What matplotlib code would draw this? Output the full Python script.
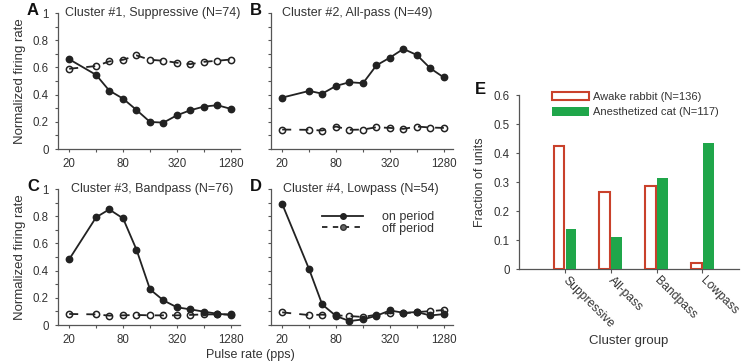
import numpy as np
import matplotlib
matplotlib.use("Agg")
import matplotlib.pyplot as plt
from matplotlib.lines import Line2D
from matplotlib.ticker import FuncFormatter

plt.rcParams['font.family'] = ['Liberation Sans', 'DejaVu Sans']

# pulse rates (pps)
rates = [20, 40, 56, 80, 113, 160, 226, 320, 452, 640, 905, 1280]
rate_ticks = [20, 40, 80, 160, 320, 640, 1280]
rate_labels = ['20', '', '80', '', '320', '', '1280']

titles = ["Cluster #1, Suppressive (N=74)", "Cluster #2, All-pass (N=49)",
          "Cluster #3, Bandpass (N=76)", "Cluster #4, Lowpass (N=54)"]
letters = ["A", "B", "C", "D"]

on_A = [0.66, 0.545, 0.43, 0.37, 0.287, 0.199, 0.194, 0.248, 0.285, 0.312, 0.322, 0.295]
off_A = [0.59, 0.61, 0.644, 0.656, 0.688, 0.656, 0.649, 0.634, 0.624, 0.641, 0.649, 0.658]
on_B = [0.378, 0.427, 0.407, 0.464, 0.491, 0.484, 0.615, 0.672, 0.736, 0.691, 0.593, 0.526]
off_B = [0.143, 0.141, 0.136, 0.165, 0.141, 0.143, 0.16, 0.155, 0.148, 0.165, 0.158, 0.155]
on_C = [0.483, 0.792, 0.85, 0.784, 0.554, 0.262, 0.181, 0.13, 0.115, 0.098, 0.083, 0.074]
off_C = [0.081, 0.078, 0.069, 0.071, 0.074, 0.071, 0.071, 0.071, 0.074, 0.078, 0.078, 0.078]
on_D = [0.89, 0.41, 0.151, 0.066, 0.029, 0.041, 0.068, 0.107, 0.09, 0.095, 0.07, 0.08]
off_D = [0.093, 0.073, 0.076, 0.071, 0.066, 0.059, 0.076, 0.088, 0.085, 0.095, 0.102, 0.11]

on_all = [on_A, on_B, on_C, on_D]
off_all = [off_A, off_B, off_C, off_D]

# panel E
groups = ["Suppressive", "All-pass", "Bandpass", "Lowpass"]
rabbit = [0.425, 0.265, 0.287, 0.021]
cat = [0.137, 0.110, 0.315, 0.435]

txt = '#333333'
axc = '#555555'
red = '#c9412b'
green = '#1fa64a'

fig = plt.figure(figsize=(7.51, 3.63), dpi=100)

W, H = 751.0, 363.0
def box(l, t, w, h):
    return [l / W, 1 - (t + h) / H, w / W, h / H]

pos = [box(58, 13, 182, 136), box(271, 13, 182, 136),
       box(58, 189, 182, 136), box(271, 189, 182, 136)]
title_x = [0.04, 0.06, 0.07, 0.066]

fmt = FuncFormatter(lambda v, p: '%g' % v)

for i in range(4):
    ax = fig.add_axes(pos[i])
    ax.set_xscale('log')
    ax.set_xlim(15, 1620)
    ax.set_ylim(0, 1)
    # off period: open markers under a dashed line
    ax.plot(rates, off_all[i], ls='none', marker='o', ms=4.5, mfc='white',
            mec='#222222', mew=1.1, zorder=3)
    ax.plot(rates, off_all[i], ls=(0, (5, 4.5)), color='#222222', lw=1.3, zorder=4)
    ax.plot(rates, on_all[i], '-o', color='#222222', lw=1.3, ms=4.6, zorder=5)

    for s in ['top', 'right']:
        ax.spines[s].set_visible(False)
    for s in ['left', 'bottom']:
        ax.spines[s].set_color(axc)
        ax.spines[s].set_linewidth(0.9)
    ax.set_xticks(rate_ticks)
    ax.set_xticklabels(rate_labels)
    ax.xaxis.set_minor_locator(plt.NullLocator())
    ax.set_yticks(np.arange(0, 1.01, 0.2))
    ax.set_yticks(np.arange(0.1, 1.0, 0.2), minor=True)
    ax.yaxis.set_major_formatter(fmt)
    ax.tick_params(which='both', colors=axc, labelcolor=txt, labelsize=8.3,
                   length=2.5, width=0.8, pad=4)
    if i % 2 == 1:
        ax.set_yticklabels([])
    else:
        ax.set_ylabel("Normalized firing rate", fontsize=9.5, color=txt, labelpad=5)
    ax.text(title_x[i], 1.0, titles[i], transform=ax.transAxes, ha='left',
            va='center', fontsize=9, color=txt)
    ax.text(-0.17 if i % 2 == 0 else -0.115, 1.02, letters[i], transform=ax.transAxes,
            ha='left', va='center', fontsize=12, fontweight='bold', color='#111111')
    if i == 3:
        h_on = Line2D([], [], color='#222222', lw=1.3, marker='o', ms=4)
        h_off = Line2D([], [], color='#222222', lw=1.3, ls=(0, (3, 3)), marker='o',
                       ms=4, mfc='#666666', mec='#333333')
        ax.legend([h_on, h_off], ['on period', 'off period'], loc='center left',
                  bbox_to_anchor=(0.28, 0.75), frameon=False, fontsize=9,
                  handlelength=3.3, handletextpad=1.5, labelspacing=-0.05,
                  borderpad=0, borderaxespad=0, labelcolor=txt)

fig.text(0.333, 0.005, "Pulse rate (pps)", ha='center', va='bottom', fontsize=9, color=txt)

# panel E
axE = fig.add_axes(box(519, 95, 220, 174))
x = np.arange(len(groups))
axE.bar(x - 0.13, rabbit, width=0.23, facecolor='white', edgecolor=red, lw=1.5,
        label='Awake rabbit (N=136)', zorder=3)
axE.bar(x + 0.13, cat, width=0.23, color=green, label='Anesthetized cat (N=117)', zorder=3)
axE.set_xlim(-1, 3.8)
axE.set_ylim(0, 0.6)
axE.set_yticks(np.arange(0, 0.61, 0.1))
axE.yaxis.set_major_formatter(fmt)
axE.set_xticks(x)
axE.set_xticklabels(groups)
for lab in axE.get_xticklabels():
    lab.set_rotation(-45)
    lab.set_rotation_mode('anchor')
    lab.set_ha('left')
    lab.set_va('center')
for s in ['top', 'right']:
    axE.spines[s].set_visible(False)
for s in ['left', 'bottom']:
    axE.spines[s].set_color(axc)
    axE.spines[s].set_linewidth(0.9)
axE.tick_params(colors=axc, labelcolor=txt, labelsize=8.3, length=2.5, width=0.8, pad=4)
axE.tick_params(axis='x', length=3, pad=4, labelsize=8.7)
axE.set_ylabel("Fraction of units", fontsize=9, color=txt, labelpad=6)
axE.set_xlabel("Cluster group", fontsize=9.5, color=txt, labelpad=3)
axE.legend(loc='upper left', bbox_to_anchor=(0.15, 1.02), frameon=False, fontsize=8,
           handlelength=3.3, handleheight=0.8, handletextpad=0.4, labelspacing=0.5,
           borderpad=0, borderaxespad=0, labelcolor=txt)
axE.text(-0.2, 1.03, "E", transform=axE.transAxes, ha='left', va='center',
         fontsize=12, fontweight='bold', color='#111111')

fig.savefig("out.png", dpi=100)
